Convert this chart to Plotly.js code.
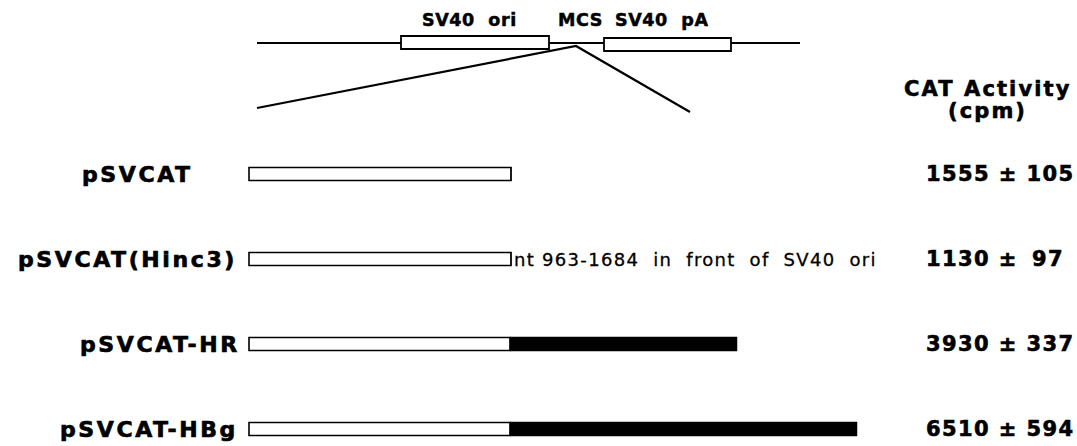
<!DOCTYPE html>
<html><head><meta charset="utf-8">
<script src="https://cdn.plot.ly/plotly-3.0.1.min.js"></script>
<style>html,body{margin:0;padding:0;background:#fff}#c{width:1077px;height:446px}</style>
</head><body><div id="c"></div>
<script>
// Data
const constructs = ["pSVCAT", "pSVCAT(Hinc3)", "pSVCAT-HR", "pSVCAT-HBg"];
const vectorLen = [262, 262, 261, 261];     // white (vector) segment length
const insertLen = [0, 0, 227, 347];          // black (insert) segment length
const catMean = [1555, 1130, 3930, 6510];
const catSD = [105, 97, 337, 594];
const notes = ["", "nt 963-1684  in  front  of  SV40  ori", "", ""];
const mapLabels = ["SV40  ori", "MCS", "SV40  pA"];

// Layout constants
const rowY = [174, 259, 344, 429];
const barX0 = 249;
const labelRight = [192, 236, 239, 237];
const BOLD = "DejaVu Sans, Liberation Sans, Arial, sans-serif";
const st = (t, px, sw) => '<span style="letter-spacing:' + px + 'px;stroke:#000;stroke-width:' + sw + 'px">' + t + '</span>';

const traces = [];
traces.push({
  type: "bar", orientation: "h",
  y: rowY, x: vectorLen, base: rowY.map(() => barX0),
  width: 13,
  marker: {color: "#ffffff", line: {color: "#000", width: 1.6}},
  hoverinfo: "skip", showlegend: false
});
traces.push({
  type: "bar", orientation: "h",
  y: rowY, x: insertLen, base: vectorLen.map(v => barX0 + v),
  width: 14,
  marker: {color: "#000000", line: {color: "#000", width: 0.5}},
  hoverinfo: "skip", showlegend: false
});
traces.push({type: "scatter", mode: "lines", x: [257, 800], y: [43, 43],
  line: {color: "#000", width: 2.2}, hoverinfo: "skip", showlegend: false});
traces.push({type: "scatter", mode: "lines", x: [257, 576, 690], y: [108, 46, 112],
  line: {color: "#000", width: 2.2}, hoverinfo: "skip", showlegend: false});

const shapes = [
  {type: "rect", x0: 401, x1: 549, y0: 36, y1: 49, line: {color: "#000", width: 1.8}, fillcolor: "#fff"},
  {type: "rect", x0: 604, x1: 731, y0: 38, y1: 51, line: {color: "#000", width: 1.8}, fillcolor: "#fff"}
];

const annotations = [];
const mapX = [469, 580, 662];
mapLabels.forEach((t, i) => annotations.push({
  x: mapX[i], y: 20, text: st(t, 0.6, 0.5), showarrow: false, xanchor: "center", yanchor: "middle",
  font: {family: BOLD, size: 17.5, color: "#000", weight: "bold"}
}));
annotations.push({x: 987, y: 89, text: st("CAT Activity", 2.1, 0.6), showarrow: false, xanchor: "center", yanchor: "middle",
  font: {family: BOLD, size: 21, color: "#000", weight: "bold"}});
annotations.push({x: 987, y: 111, text: st("(cpm)", 2.1, 0.6), showarrow: false, xanchor: "center", yanchor: "middle",
  font: {family: BOLD, size: 21, color: "#000", weight: "bold"}});
constructs.forEach((c, i) => {
  annotations.push({x: labelRight[i] + 2.6, y: rowY[i], text: st(c, 2.6, 0.7), showarrow: false, xanchor: "right", yanchor: "middle",
    font: {family: BOLD, size: 22, color: "#000", weight: "bold"}});
  const pad = String(catSD[i]).length < 3 ? "\u2009" : "";
  annotations.push({x: 924, y: rowY[i], text: st(catMean[i] + " ± " + pad + catSD[i], 1.4, 0.6), showarrow: false,
    xanchor: "left", yanchor: "middle",
    font: {family: BOLD, size: 21, color: "#000", weight: "bold"}});
  if (notes[i]) annotations.push({x: barX0 + vectorLen[i] + 1, y: rowY[i], text: st(notes[i], 1.3, 0.3), showarrow: false,
    xanchor: "left", yanchor: "middle", font: {family: "DejaVu Sans, sans-serif", size: 18, color: "#000"}});
});

const layout = {
  width: 1077, height: 446,
  margin: {l: 0, r: 0, t: 0, b: 0},
  paper_bgcolor: "#fff", plot_bgcolor: "#fff",
  barmode: "overlay",
  xaxis: {range: [0, 1077], visible: false, fixedrange: true},
  yaxis: {range: [446, 0], visible: false, fixedrange: true},
  shapes: shapes, annotations: annotations, showlegend: false
};
Plotly.newPlot("c", traces, layout, {staticPlot: true});
</script></body></html>
